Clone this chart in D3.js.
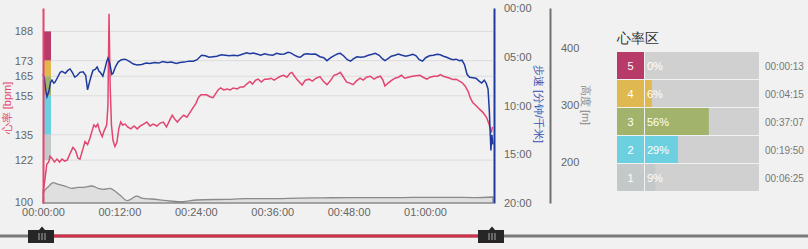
<!DOCTYPE html>
<html>
<head>
<meta charset="utf-8">
<script src="https://cdn.jsdelivr.net/npm/d3@7"></script>
<style>
  body { margin: 0; background: #f1f1f1; }
  svg { display: block; font-family: "Liberation Sans", Arial, sans-serif; }
</style>
</head>
<body>
<svg id="chart"></svg>
<script>
// time in minutes, heart rate in bpm
const hrData = [
  [0,105],[0.3,112],[0.6,120],[0.9,121],[1.1,124],[1.4,123],[1.8,121],[2.2,122.5],[2.6,121],[3.0,122.5],
  [3.4,121.5],[3.8,122],[4.2,125],[4.7,128.5],[5.1,127],[5.5,123],[5.8,122.5],[6.2,127],[6.6,131.5],[7.0,130],
  [7.4,133.5],[7.8,138],[8.0,140],[8.3,139],[8.6,140.5],[8.9,137],[9.3,134],[9.6,137],[10.0,140],[10.2,150],
  [10.37,197],[10.55,160],[10.75,140],[11.0,132],[11.3,129],[11.6,131],[11.9,138],[12.2,141.5],[12.5,140],[12.9,140.5],
  [13.3,139],[13.8,138],[14.3,139.5],[14.8,138],[15.3,139.5],[15.8,140.5],[16.3,141.5],[16.8,139.5],[17.3,140.5],[17.9,139.5],
  [18.4,141],[18.9,141.5],[19.4,139],[19.9,142.5],[20.3,145],[20.7,143],[21.1,141.5],[21.6,143.5],[22.1,145],[22.6,144],
  [23.0,146],[23.5,148.5],[24.0,151],[24.4,154],[24.8,155.5],[25.2,155.5],[25.7,155.5],[26.2,154.5],[26.7,154],[27.1,156],
  [27.5,158],[27.9,159],[28.4,158],[28.9,158.5],[29.4,158],[29.9,159],[30.5,158.5],[31.0,159.5],[31.5,159.5],[32.0,161],
  [32.5,162.3],[32.9,161],[33.4,163],[33.8,163.5],[34.3,162],[34.8,163.5],[35.3,163.5],[35.8,164],[36.3,163],[36.8,164],
  [37.3,165],[37.8,165.5],[38.3,164.5],[38.8,166.5],[39.1,167],[39.5,165],[40.0,163],[40.7,160.5],[41.2,163],[41.8,163.5],
  [42.3,162.5],[42.9,164],[43.5,164.8],[44.0,162.5],[44.6,160.7],[45.1,162.5],[45.7,165.5],[46.2,166],[46.7,167],[47.2,164.5],
  [47.7,162],[48.2,161.5],[48.7,160.7],[49.2,162.5],[49.8,164],[50.3,163],[50.8,164.5],[51.4,165],[52.0,163.5],[52.5,164.5],
  [53.0,165],[53.4,163],[53.7,160],[54.2,161.5],[54.8,163],[55.3,164],[55.8,164.5],[56.3,165.5],[56.8,164],[57.4,164.5],
  [58.0,165],[58.6,165.3],[59.2,165.5],[59.7,164.5],[60.3,163.5],[60.8,164.5],[61.4,165],[62.0,165],[62.4,165.8],[62.9,165],
  [63.4,164.5],[63.9,164],[64.4,163.3],[64.9,163.5],[65.4,162.5],[65.8,161.8],[66.3,160],[66.8,157],[67.1,154],[67.5,151.5],
  [68.0,150],[68.6,148],[69.1,146.5],[69.7,143.7],[70.1,140],[70.4,136],[70.6,139]
];

// time in minutes, pace in min/km
const paceData = [
  [0,6.8],[0.2,7.2],[0.45,8.5],[0.63,9.1],[0.9,8.6],[1.2,7.6],[1.41,7.4],[1.7,7.7],[1.9,7.6],[2.3,7.1],
  [2.7,6.6],[3.0,6.5],[3.5,6.7],[3.9,6.4],[4.25,6.25],[4.6,6.6],[5.0,7.1],[5.4,6.9],[5.8,6.6],[6.3,6.55],
  [6.7,6.9],[7.0,8.4],[7.3,7.6],[7.6,6.9],[7.85,6.4],[8.2,6.3],[8.5,6.05],[8.8,6.5],[9.0,6.6],[9.4,7.0],
  [9.7,6.3],[10.0,5.5],[10.2,5.15],[10.5,5.7],[10.8,6.8],[11.0,6.7],[11.4,6.0],[11.8,5.55],[12.3,5.3],[12.9,5.25],
  [13.5,5.45],[14.2,5.75],[14.8,5.85],[15.5,5.8],[16.2,5.65],[16.8,5.7],[17.5,5.6],[18.2,5.65],[18.8,5.5],[19.5,5.6],
  [20.2,5.55],[20.9,5.7],[21.5,5.6],[22.2,5.55],[22.9,5.45],[23.6,5.45],[24.2,5.3],[24.9,4.85],[25.5,4.9],[26.1,5.05],
  [26.7,5.0],[27.3,4.95],[28.0,4.8],[28.6,4.85],[29.3,4.9],[29.9,4.85],[30.6,4.9],[31.3,4.75],[32.0,4.6],[32.5,4.7],
  [33.0,4.62],[33.6,4.72],[34.2,4.85],[34.8,4.7],[35.4,4.8],[36.1,4.85],[36.7,4.65],[37.3,4.75],[37.9,4.72],[38.5,4.55],
  [38.9,4.6],[39.4,4.8],[40.0,5.0],[40.4,5.05],[41.0,4.75],[41.5,4.7],[42.1,4.75],[42.8,4.72],[43.5,5.0],[44.1,5.1],
  [44.6,5.4],[45.2,5.1],[45.8,4.85],[46.3,4.7],[46.7,4.65],[47.2,4.9],[47.8,5.3],[48.3,5.45],[48.8,5.2],[49.3,5.0],
  [49.9,5.05],[50.5,5.0],[51.1,4.85],[51.7,4.75],[52.2,4.65],[52.8,4.85],[53.3,5.2],[53.7,5.4],[54.2,5.2],[54.7,4.95],
  [55.3,4.85],[55.8,4.72],[56.4,4.85],[57.0,4.95],[57.6,4.85],[58.1,4.75],[58.6,4.9],[59.1,5.3],[59.6,5.45],[60.1,5.1],
  [60.7,4.9],[61.3,4.85],[61.9,4.75],[62.4,4.8],[62.9,4.95],[63.4,5.05],[63.9,5.2],[64.4,5.3],[64.9,5.25],[65.4,5.4],
  [65.8,5.35],[66.2,5.8],[66.6,6.8],[67.0,7.1],[67.5,7.15],[68.0,7.2],[68.5,7.5],[68.9,7.7],[69.3,7.4],[69.6,7.7],
  [69.9,8.3],[70.1,10.5],[70.35,14.6],[70.5,13.0],[70.68,14.0]
];

// time in minutes, altitude in m
const altData = [
  [0,140],[0.05,145],[0.83,156.6],[1.62,163.6],[2.36,161],[3.46,157.8],[4.51,153.8],[5.54,155.5],[6.33,155.5],[7.65,157.8],
  [8.69,153.8],[9.47,152],[10.52,153.8],[11.04,150.8],[12.09,142],[13.24,132],[14.72,140],[15.7,136],[17.07,135],[19.43,132],
  [21.52,130.3],[24.14,133.3],[28.85,134.5],[32,135.5],[36,135.5],[40,136.5],[44,137],[48,137.5],[52,137.5],[56,137.5],
  [60,138],[64,138],[68,137.5],[70.68,138.5]
];

const totalMinutes = 70.68;

// axis ticks
const hrTicks = [100, 122, 135, 155, 165, 173, 188];
const paceTicks = [0, 5, 10, 15, 20];
const altTicks = [200, 300, 400];
const timeTicks = [0, 12, 24, 36, 48, 60];

// heart rate zones
const zoneIds = [5, 4, 3, 2, 1];
const zoneHigh = [188, 173, 165, 155, 135];
const zoneLow = [173, 165, 155, 135, 122];
const zonePct = [0, 6, 56, 29, 9];
const zoneTimes = ["00:00:13", "00:04:15", "00:37:07", "00:19:50", "00:06:25"];
const zoneColors = ["#b83a68", "#dfb84f", "#a2b46c", "#6dd0e0", "#c3c8c8"];

const width = 808, height = 249;
const plot = {left: 43, right: 493, top: 8, bottom: 203};

const svg = d3.select("#chart")
  .attr("width", width)
  .attr("height", height)
  .style("background", "#f1f1f1");

// scales
const x = d3.scaleLinear().domain([0, totalMinutes]).range([plot.left, plot.right]);
const yHr = d3.scaleLinear().domain([100, 200]).range([plot.bottom, plot.top]);
const yPace = d3.scaleLinear().domain([0, 20]).range([plot.top, plot.bottom]);
const yAlt = d3.scaleLinear().domain([128, 470]).range([plot.bottom, plot.top]);

const pad = n => String(n).padStart(2, "0");
const fmtTime = m => `${pad(Math.floor(m / 60))}:${pad(m % 60)}:00`;
const fmtPace = m => `${pad(m)}:00`;

// grid lines
svg.append("g")
  .selectAll("line")
  .data(hrTicks.slice(1))
  .enter().append("line")
  .attr("x1", plot.left).attr("x2", plot.right)
  .attr("y1", d => yHr(d)).attr("y2", d => yHr(d))
  .attr("stroke", "#dcdcdc").attr("stroke-width", 1);

// altitude area
svg.append("path")
  .datum(altData)
  .attr("fill", "#dfdfdf")
  .attr("stroke", "#8a8a8a")
  .attr("stroke-width", 1.3)
  .attr("d", d3.area()
    .x(d => x(d[0]))
    .y0(plot.bottom)
    .y1(d => yAlt(d[1]))
    .curve(d3.curveMonotoneX));

// zone strip on the left
svg.append("g")
  .selectAll("rect")
  .data(zoneIds)
  .enter().append("rect")
  .attr("x", plot.left)
  .attr("width", 8)
  .attr("y", (d, i) => yHr(zoneHigh[i]))
  .attr("height", (d, i) => yHr(zoneLow[i]) - yHr(zoneHigh[i]))
  .attr("fill", (d, i) => zoneColors[i]);

// heart rate line
svg.append("path")
  .datum(hrData)
  .attr("fill", "none")
  .attr("stroke", "#e2456f")
  .attr("stroke-width", 1.5)
  .attr("d", d3.line().x(d => x(d[0])).y(d => yHr(d[1])));

// pace line
svg.append("path")
  .datum(paceData)
  .attr("fill", "none")
  .attr("stroke", "#1f3a9e")
  .attr("stroke-width", 1.5)
  .attr("d", d3.line().x(d => x(d[0])).y(d => yPace(d[1])));

// left axis (heart rate)
const hrAxis = svg.append("g")
  .attr("transform", `translate(${plot.left},0)`)
  .call(d3.axisLeft(yHr).tickValues(hrTicks).tickSize(0).tickPadding(10));
hrAxis.select(".domain").attr("stroke", "#e2456f").attr("stroke-width", 2);
hrAxis.selectAll("text").attr("fill", "#666").style("font-size", "11px");
hrAxis.selectAll("text").filter(d => d === 100).attr("dy", "0.2em");

// right axis (pace)
const paceAxis = svg.append("g")
  .attr("transform", `translate(${plot.right + 1},0)`)
  .call(d3.axisRight(yPace).tickValues(paceTicks).tickFormat(fmtPace).tickSize(0).tickPadding(10));
paceAxis.select(".domain").attr("stroke", "#1f3a9e").attr("stroke-width", 2);
paceAxis.selectAll("text").attr("fill", "#666").style("font-size", "11px");

// altitude axis
const altAxis = svg.append("g")
  .attr("transform", `translate(550,0)`)
  .call(d3.axisRight(yAlt).tickValues(altTicks).tickSize(0).tickPadding(11));
altAxis.select(".domain").attr("stroke", "#707070").attr("stroke-width", 2);
altAxis.selectAll("text").attr("fill", "#666").style("font-size", "11px");

// bottom axis (time)
const timeAxis = svg.append("g")
  .attr("transform", `translate(0,${plot.bottom})`)
  .call(d3.axisBottom(x).tickValues(timeTicks).tickFormat(fmtTime).tickSize(0).tickPadding(5));
timeAxis.select(".domain").remove();
timeAxis.selectAll("text").attr("fill", "#666").style("font-size", "11px");

// axis titles
svg.append("text")
  .attr("transform", "translate(11,108) rotate(-90)")
  .attr("text-anchor", "middle")
  .attr("fill", "#e2456f")
  .style("font-size", "11px")
  .text("心率 [bpm]");

svg.append("text")
  .attr("transform", "translate(535,104) rotate(90)")
  .attr("text-anchor", "middle")
  .attr("fill", "#3550b0")
  .style("font-size", "11px")
  .text("步速 [分钟/千米]");

svg.append("text")
  .attr("transform", "translate(582,105) rotate(90)")
  .attr("text-anchor", "middle")
  .attr("fill", "#888")
  .style("font-size", "11px")
  .text("高度 [m]");

// zone legend
const lg = {x: 617, y: 52, box: 27, track: 114, row: 28};
const pctX = d3.scaleLinear().domain([0, 100]).range([0, lg.track]);

svg.append("text")
  .attr("x", lg.x).attr("y", 43)
  .attr("fill", "#333")
  .style("font-size", "14px")
  .text("心率区");

const rows = svg.append("g")
  .selectAll("g")
  .data(zoneIds)
  .enter().append("g")
  .attr("transform", (d, i) => `translate(${lg.x},${lg.y + i * lg.row})`);

rows.append("rect")
  .attr("x", lg.box + 1).attr("width", lg.track).attr("height", lg.box)
  .attr("fill", "#d0d0d0");

rows.append("rect")
  .attr("width", lg.box).attr("height", lg.box)
  .attr("fill", (d, i) => zoneColors[i]);

rows.append("rect")
  .attr("x", lg.box + 1).attr("height", lg.box)
  .attr("width", (d, i) => pctX(zonePct[i]))
  .attr("fill", (d, i) => zoneColors[i]);

rows.append("text")
  .attr("x", lg.box / 2).attr("y", lg.box / 2 + 4)
  .attr("text-anchor", "middle")
  .attr("fill", "#fff")
  .style("font-size", "11px")
  .text(d => d);

rows.append("text")
  .attr("x", lg.box + 3).attr("y", lg.box / 2 + 4)
  .attr("fill", "#fff")
  .style("font-size", "11px")
  .text((d, i) => zonePct[i] + "%");

rows.append("text")
  .attr("x", lg.box + lg.track + 7).attr("y", lg.box / 2 + 4)
  .attr("fill", "#777")
  .style("font-size", "10px")
  .text((d, i) => zoneTimes[i]);

// range slider
const sy = 236;
svg.append("line")
  .attr("x1", 0).attr("x2", width).attr("y1", sy).attr("y2", sy)
  .attr("stroke", "#7a7a7a").attr("stroke-width", 3);
svg.append("line")
  .attr("x1", x(0)).attr("x2", x(totalMinutes)).attr("y1", sy).attr("y2", sy)
  .attr("stroke", "#d0304a").attr("stroke-width", 3);

const handles = svg.append("g")
  .selectAll("g")
  .data([0, totalMinutes])
  .enter().append("g")
  .attr("transform", d => `translate(${x(d) - 1},${sy})`);

handles.append("rect")
  .attr("x", -14).attr("y", -6).attr("width", 26).attr("height", 13)
  .attr("fill", "#262626");
handles.append("path")
  .attr("d", "M-3,-6L0,-9.5L3,-6Z")
  .attr("fill", "#262626");
handles.selectAll("line")
  .data([-3, 0, 3])
  .enter().append("line")
  .attr("x1", d => d).attr("x2", d => d)
  .attr("y1", -3).attr("y2", 4)
  .attr("stroke", "#a8a8a8").attr("stroke-width", 1);
</script>
</body>
</html>
